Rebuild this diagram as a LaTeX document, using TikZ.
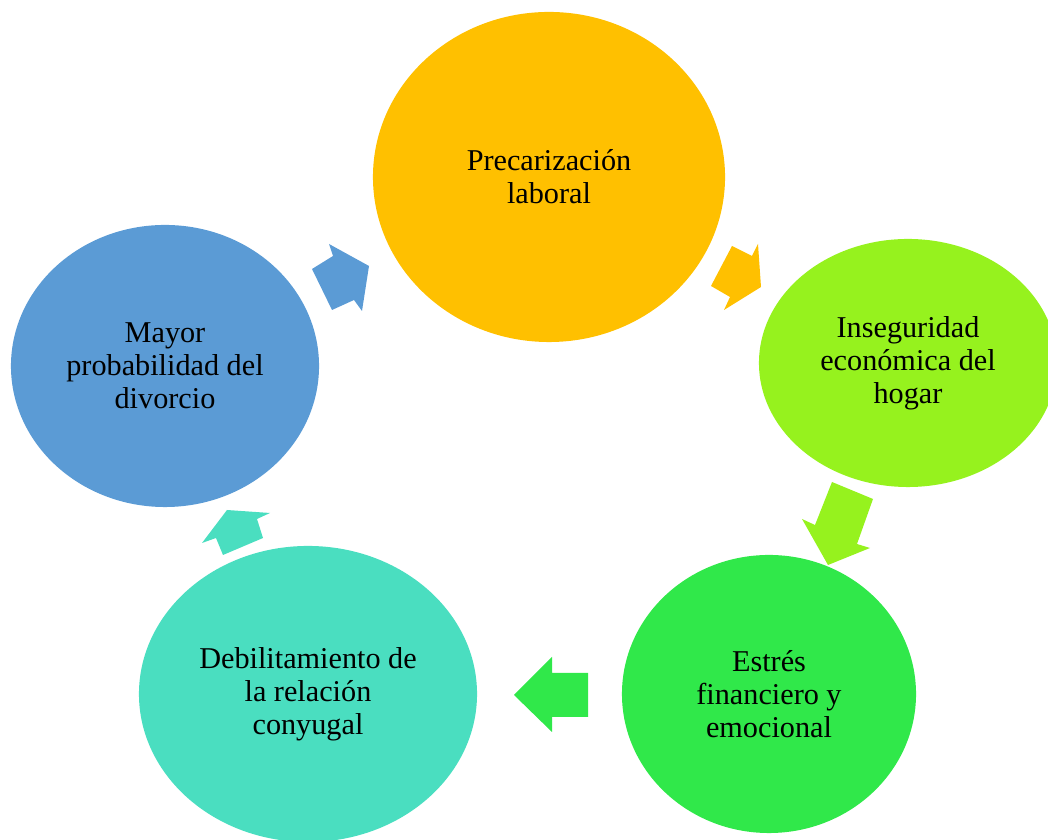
\documentclass[tikz,border=0pt]{standalone}
\usepackage{fontspec}
\setmainfont{Liberation Serif}
\usetikzlibrary{shapes.geometric}

\definecolor{amarillo}{HTML}{FFC000}
\definecolor{lima}{HTML}{96F21E}
\definecolor{verde}{HTML}{30E84A}
\definecolor{turquesa}{HTML}{4ADEC0}
\definecolor{azul}{HTML}{5B9BD5}

\begin{document}
\begin{tikzpicture}[x=0.025cm,y=0.025cm]
        % Estilo para las elipses
        \tikzstyle{elipse} = [ellipse, inner sep=0pt, align=center, font=\fontsize{21.5}{23.5}\selectfont]

        % Marco del dibujo
        \useasboundingbox (0,0) rectangle (1048,840);

        % Elipses del ciclo
        \node[elipse, fill=amarillo, minimum width=8.8cm, minimum height=8.25cm] (prec) at (549,663) {Precarización\\laboral};
        \node[elipse, fill=lima, minimum width=7.45cm, minimum height=6.2cm] (inseg) at (908,477) {Inseguridad\\económica del\\hogar};
        \node[elipse, fill=verde, minimum width=7.35cm, minimum height=6.95cm] (estres) at (769,146) {Estrés\\financiero y\\emocional};
        \node[elipse, fill=turquesa, minimum width=8.45cm, minimum height=7.4cm] (debil) at (308,146) {Debilitamiento de\\la relación\\conyugal};
        \node[elipse, fill=azul, minimum width=7.7cm, minimum height=7.05cm] (divor) at (165,474) {Mayor\\probabilidad del\\divorcio};

        % Flechas de bloque entre las elipses
        \fill[amarillo] (732,594) -- (752,584) -- (758,596) -- (761,553) -- (724,530) -- (730,543) -- (711,554) -- cycle; % prec -> inseg
        \fill[lima] (832,358) -- (873,341) -- (857,296) -- (870,292) -- (828,275) -- (802,321) -- (815,315) -- cycle;      % inseg -> estres
        \fill[verde] (588,167) -- (552,167) -- (552,183) -- (514,145) -- (552,108) -- (552,123) -- (588,123) -- cycle;     % estres -> debil
        \fill[turquesa] (227,330) -- (270,327) -- (257,321) -- (263,302) -- (223,285) -- (216,302) -- (202,297) -- cycle;  % debil -> divor
        \fill[azul] (329,596) -- (333,584) -- (312,571) -- (332,530) -- (354,540) -- (362,529) -- (369,574) -- cycle;      % divor -> prec

\end{tikzpicture}
\end{document}
